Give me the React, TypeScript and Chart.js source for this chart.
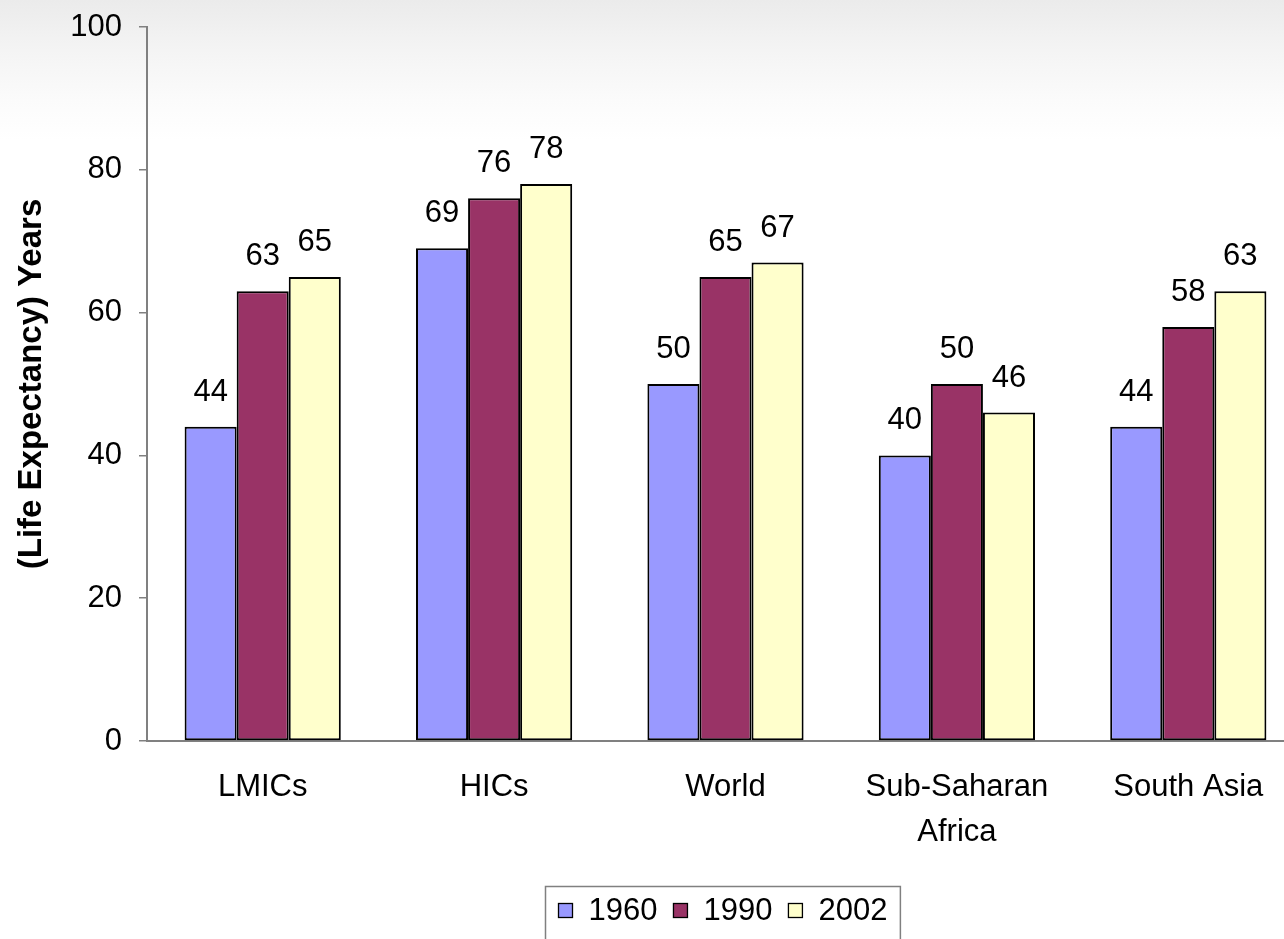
import React, { useEffect, useRef } from 'react';
import { Chart, registerables } from 'chart.js';

Chart.register(...registerables);

const categories: (string | string[])[] = ['LMICs', 'HICs', 'World', ['Sub-Saharan', 'Africa'], 'South Asia'];
const seriesNames = ['1960', '1990', '2002'];
const values1960 = [44, 69, 50, 40, 44];
const values1990 = [63, 76, 65, 50, 58];
const values2002 = [65, 78, 67, 46, 63];
const seriesColors = ['#9999FF', '#993366', '#FFFFCC'];
const yMin = 0;
const yMax = 100;
const yStep = 20;
const yTitle = '(Life Expectancy) Years';

const FONT = "'Liberation Sans', Arial, sans-serif";
const FS = 31;

const valueLabelPlugin = {
  id: 'valueLabels',
  afterDatasetsDraw(chart: any) {
    const ctx = chart.ctx;
    ctx.save();
    ctx.font = `${FS}px ${FONT}`;
    ctx.fillStyle = '#000';
    ctx.textAlign = 'center';
    ctx.textBaseline = 'alphabetic';
    chart.data.datasets.forEach((ds: any, i: number) => {
      const meta = chart.getDatasetMeta(i);
      meta.data.forEach((el: any, j: number) => {
        ctx.fillText(String(ds.data[j]), el.x, el.y - 26);
      });
    });
    ctx.restore();
  },
};

const boxedLegendPlugin = {
  id: 'boxedLegend',
  afterDraw(chart: any) {
    const ctx = chart.ctx;
    const area = chart.chartArea;
    ctx.save();
    ctx.font = `${FS}px ${FONT}`;
    const padL = 13;
    const sq = 14;
    const gap = 16;
    const itemGap = 16;
    const items = chart.data.datasets.map((ds: any) => ({
      label: ds.label,
      color: ds.backgroundColor,
      w: ctx.measureText(ds.label).width,
    }));
    let total = padL * 2;
    items.forEach((it: any, i: number) => {
      total += sq + gap + it.w + (i < items.length - 1 ? itemGap : 0);
    });
    const cx = (area.left + area.right) / 2 - 3;
    const left = Math.round(cx - total / 2) + 0.5;
    const top = area.bottom + 145 + 0.5;
    const h = 64;
    ctx.strokeStyle = '#808080';
    ctx.lineWidth = 1.5;
    ctx.strokeRect(left, top, total, h);
    const cy = top + 24;
    let x = left + padL;
    ctx.textBaseline = 'middle';
    ctx.textAlign = 'left';
    items.forEach((it: any) => {
      ctx.fillStyle = it.color;
      ctx.fillRect(x, cy - sq / 2, sq, sq);
      ctx.strokeStyle = '#000';
      ctx.lineWidth = 1.3;
      ctx.strokeRect(x, cy - sq / 2, sq, sq);
      x += sq + gap;
      ctx.fillStyle = '#000';
      ctx.fillText(it.label, x, cy + 1);
      x += it.w + itemGap;
    });
    ctx.restore();
  },
};

export default function App() {
  const ref = useRef<HTMLCanvasElement>(null);

  useEffect(() => {
    if (!ref.current) return;
    const seriesValues = [values1960, values1990, values2002];
    const chart = new Chart(ref.current, {
      type: 'bar',
      data: {
        labels: categories,
        datasets: seriesNames.map((name, i) => ({
          label: name,
          data: seriesValues[i],
          backgroundColor: seriesColors[i],
          borderColor: '#000000',
          borderWidth: 2,
          borderSkipped: false,
          categoryPercentage: 0.675,
          barPercentage: 1,
        })),
      },
      options: {
        responsive: false,
        animation: false,
        devicePixelRatio: 1,
        layout: { padding: { top: 27, right: 6, bottom: 79, left: 0 } },
        plugins: {
          legend: { display: false },
          tooltip: { enabled: false },
          title: { display: false },
        },
        scales: {
          x: {
            grid: { display: false, drawTicks: false },
            border: { display: true, color: '#808080', width: 2 },
            ticks: {
              color: '#000',
              font: { family: FONT, size: FS, lineHeight: 1.45 },
              padding: 24,
              maxRotation: 0,
              autoSkip: false,
            },
            afterFit: (s: any) => {
              s.height = 140;
              s.paddingLeft = 0;
              s.paddingRight = 0;
            },
          },
          y: {
            min: yMin,
            max: yMax,
            grid: {
              display: true,
              drawOnChartArea: false,
              drawTicks: true,
              tickLength: 8,
              color: '#808080',
              lineWidth: 1.5,
            },
            border: { display: true, color: '#808080', width: 2 },
            ticks: {
              stepSize: yStep,
              color: '#000',
              font: { family: FONT, size: FS },
              padding: 17,
            },
            title: {
              display: true,
              text: yTitle,
              color: '#000',
              font: { family: FONT, size: 33, weight: 'bold' },
              padding: { top: 12, bottom: 0 },
            },
            afterFit: (s: any) => {
              s.width = 147;
              s.paddingTop = 8;
              s.paddingBottom = 8;
            },
          },
        },
      },
      plugins: [valueLabelPlugin, boxedLegendPlugin],
    });
    return () => chart.destroy();
  }, []);

  return (
    <div
      style={{
        position: 'absolute',
        left: 0,
        top: 0,
        width: 1284,
        height: 939,
        overflow: 'hidden',
        background: 'linear-gradient(to bottom, #ebebeb 0px, #f4f4f4 50px, #fbfbfb 100px, #ffffff 140px)',
      }}
    >
      <canvas ref={ref} width={1310} height={960} style={{ display: 'block', width: 1310, height: 960 }} />
    </div>
  );
}
